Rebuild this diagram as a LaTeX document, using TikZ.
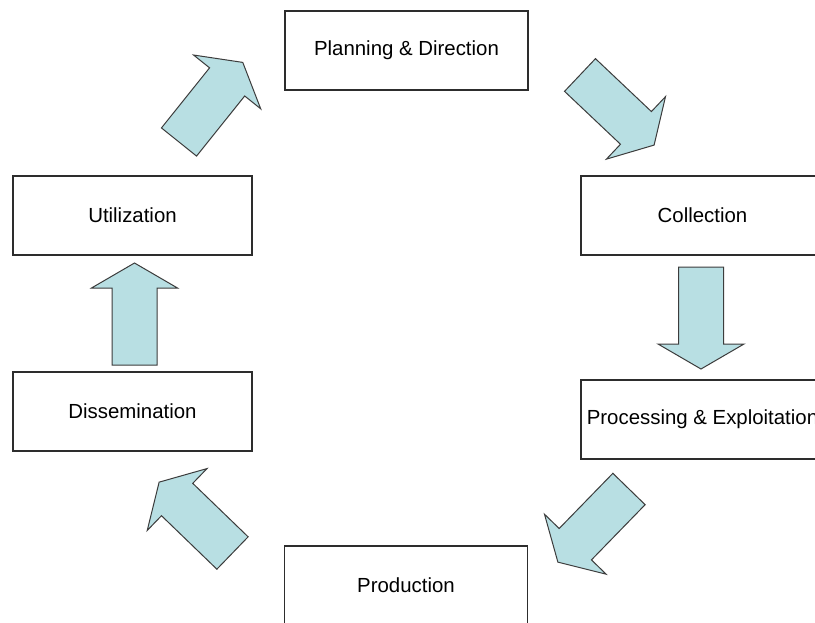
\documentclass[tikz,border=0pt]{standalone}
\usepackage{fontspec}
\setmainfont{Liberation Sans}
\usepackage{tikz}
\usetikzlibrary{positioning,calc}
\definecolor{boxline}{RGB}{45,45,45}
\definecolor{arrowfill}{RGB}{184,223,227}
\definecolor{arrowline}{RGB}{60,60,60}

\newcommand{\stagefont}{\fontsize{10.2pt}{12pt}\selectfont}

\tikzset{
  stage/.style={draw=boxline,line width=0.7pt,fill=white,minimum width=121.5pt,
    minimum height=39.5pt,inner sep=0pt,font=\stagefont},
  % block arrow, tail at the origin, pointing along +x
  blockarr/.pic={
    \draw[fill=arrowfill,draw=arrowline,line width=0.5pt,line join=miter]
      (0,-22.5)--(77,-22.5)--(77,-43)--(102,0)--(77,43)--(77,22.5)--(0,22.5)--cycle;
  }
}

\begin{document}
\begin{tikzpicture}[x=0.5pt,y=-0.5pt]
    \useasboundingbox (0,0) rectangle (815,622);
    \fill[white] (0,0) rectangle (815,622);
    \clip (0,0) rectangle (815,622);

    \node[stage] (plan) at (406.5,50.5) {Planning \& Direction};
    \node[stage] (coll) at (702.5,215.5) {Collection};
    \node[stage] (proc) at (702.5,419.5) {Processing \& Exploitation};
    \node[stage] (prod) at (406,585.5) {Production};
    \node[stage,minimum width=119.5pt] (diss) at (132.5,411.5) {Dissemination};
    \node[stage,minimum width=119.5pt] (util) at (132.5,215.5) {Utilization};

    \coordinate (t1) at (179,142);
    \coordinate (t2) at (580,75);
    \coordinate (t3) at (701,267);
    \coordinate (t4) at (629,489);
    \coordinate (t5) at (232.5,553);
    \coordinate (t6) at (134.5,365);

    \pic[rotate=51.3] at (t1) {blockarr};
    \pic[rotate=-43.4] at (t2) {blockarr};
    \pic[rotate=-90] at (t3) {blockarr};
    \pic[rotate=225.8] at (t4) {blockarr};
    \pic[rotate=136] at (t5) {blockarr};
    \pic[rotate=90] at (t6) {blockarr};
  \end{tikzpicture}
\end{document}
